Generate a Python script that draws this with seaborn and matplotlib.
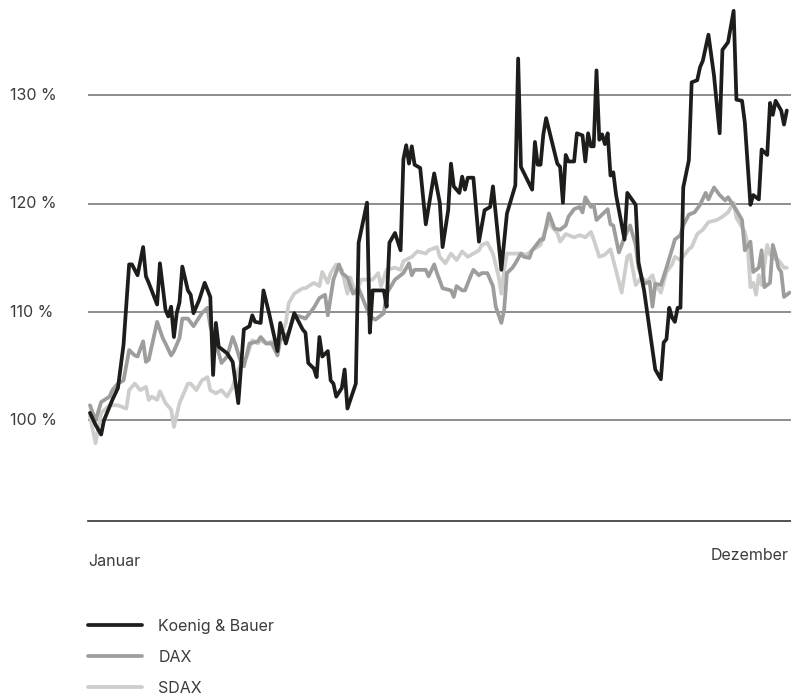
import pandas as pd
import matplotlib.pyplot as plt
import matplotlib.transforms as mtransforms
import seaborn as sns

# Handelstage (0 = Anfang Januar, 250 = Ende Dezember) und indexierte Kurse in %
kb_tage = [0, 2, 4, 5, 8, 10, 12, 14, 15, 17, 19, 20, 21, 24, 25, 27, 28, 29, 30, 31,
           32, 33, 35, 36, 37, 39, 41, 43, 44, 45, 46, 48, 49, 51, 53, 55, 57, 58, 59, 61,
           62, 64, 67, 68, 70, 73, 76, 77, 78, 80, 81, 82, 83, 85, 86, 87, 88, 90, 91, 92,
           95, 96, 99, 100, 101, 105, 106, 107, 109, 111, 112, 113, 114, 115, 116, 118, 120, 123, 125, 126,
           128, 129, 130, 132, 133, 134, 135, 137, 139, 141, 143, 144, 147, 149, 152, 153, 154, 158, 159, 160,
           161, 162, 163, 167, 168, 169, 170, 171, 173, 174, 176, 177, 178, 179, 180, 181, 182, 183, 184, 185,
           186, 187, 188, 191, 192, 195, 196, 198, 202, 204, 205, 206, 207, 208, 209, 210, 211, 212, 214, 215,
           217, 218, 219, 221, 223, 225, 226, 228, 230, 231, 233, 234, 236, 237, 239, 240, 242, 243, 244, 245,
           247, 248, 249]
kb_werte = [100.7, 99.6, 98.7, 100.0, 101.9, 103.0, 107.0, 114.4, 114.4, 113.4, 116.0, 113.3, 112.7, 110.7, 114.5, 110.2, 109.6, 110.5, 107.7, 109.9,
            110.9, 114.2, 112.0, 111.6, 109.9, 111.1, 112.7, 111.4, 104.2, 109.0, 106.8, 106.4, 106.2, 105.4, 101.6, 108.4, 108.7, 109.7, 109.1, 109.0,
            112.0, 109.9, 106.4, 109.0, 107.1, 109.9, 108.4, 108.1, 105.3, 104.8, 104.0, 107.7, 105.9, 106.4, 103.7, 103.4, 102.2, 103.0, 104.7, 101.1,
            103.4, 116.4, 120.1, 108.1, 112.0, 112.0, 110.5, 116.4, 117.3, 115.7, 124.1, 125.4, 123.7, 125.3, 123.6, 123.3, 118.1, 122.8, 120.1, 116.0,
            119.4, 123.7, 121.6, 121.0, 122.5, 121.3, 122.4, 122.4, 116.5, 119.4, 119.7, 121.6, 113.9, 119.1, 121.7, 133.4, 123.4, 121.3, 125.7, 123.6,
            123.6, 126.4, 127.9, 123.7, 123.4, 120.1, 124.5, 123.9, 123.9, 126.5, 126.3, 123.9, 126.5, 125.3, 125.3, 132.3, 125.9, 126.4, 125.5, 126.5,
            122.6, 122.9, 120.8, 116.7, 121.0, 119.9, 114.6, 112.0, 104.7, 103.8, 107.2, 107.5, 110.4, 109.5, 109.1, 110.4, 110.4, 121.5, 124.0, 131.2,
            131.4, 132.6, 133.2, 135.6, 131.8, 126.5, 134.2, 134.9, 137.8, 129.6, 129.5, 127.5, 119.9, 120.8, 120.4, 125.0, 124.5, 129.3, 128.2, 129.5,
            128.6, 127.3, 128.6]

dax_tage = [0, 2, 4, 7, 8, 10, 12, 14, 16, 17, 19, 20, 21, 24, 26, 27, 29, 30, 32, 33,
            35, 37, 38, 40, 42, 43, 45, 47, 49, 51, 52, 54, 55, 57, 60, 61, 63, 65, 67, 68,
            71, 73, 75, 77, 80, 82, 84, 85, 87, 89, 90, 92, 94, 96, 100, 102, 105, 106, 109, 112,
            114, 115, 116, 120, 121, 123, 124, 126, 129, 130, 131, 133, 134, 136, 137, 139, 140, 142, 144, 145,
            147, 148, 149, 151, 152, 154, 155, 157, 158, 161, 162, 164, 165, 166, 168, 170, 171, 173, 175, 176,
            177, 179, 180, 181, 183, 185, 186, 187, 189, 191, 193, 195, 196, 198, 200, 201, 202, 204, 206, 208,
            209, 211, 212, 214, 216, 218, 220, 221, 223, 225, 227, 228, 231, 233, 234, 236, 237, 239, 240, 241,
            243, 244, 245, 246, 247, 248, 250]
dax_werte = [101.4, 100.0, 101.7, 102.2, 102.8, 103.4, 103.7, 106.5, 106.0, 105.9, 107.3, 105.4, 105.6, 109.1, 107.6, 107.1, 106.0, 106.4, 107.6, 109.4,
             109.4, 108.7, 109.1, 109.9, 110.4, 108.7, 107.1, 105.3, 105.9, 107.7, 107.0, 105.3, 105.0, 107.1, 107.3, 107.7, 107.1, 107.1, 106.0, 107.4,
             108.1, 109.7, 109.6, 109.4, 110.4, 111.3, 111.6, 109.7, 113.0, 114.4, 113.6, 113.2, 111.7, 112.2, 109.6, 109.3, 109.9, 111.7, 113.0, 113.6,
             114.5, 113.4, 113.9, 113.9, 113.3, 114.4, 113.6, 112.2, 112.0, 111.4, 112.4, 112.0, 112.0, 113.3, 113.9, 113.4, 113.6, 113.6, 112.4, 110.5,
             109.0, 110.2, 113.6, 114.1, 114.5, 115.4, 115.1, 115.0, 115.7, 116.7, 116.7, 119.1, 118.4, 117.7, 117.6, 118.0, 118.8, 119.5, 119.7, 119.2,
             120.6, 119.7, 119.9, 118.5, 119.0, 119.5, 118.1, 118.0, 115.5, 116.9, 118.0, 116.2, 114.1, 112.6, 112.8, 110.5, 112.6, 112.5, 114.1, 115.8,
             116.7, 117.1, 118.0, 119.0, 119.2, 119.9, 121.0, 120.4, 121.5, 120.8, 120.3, 120.6, 119.4, 118.5, 115.7, 116.5, 113.7, 114.1, 115.7, 112.3,
             112.7, 116.2, 115.3, 114.1, 113.7, 111.4, 111.8]

sdax_tage = [0, 2, 4, 7, 10, 13, 14, 16, 18, 20, 21, 22, 24, 25, 27, 29, 30, 32, 35, 36,
             38, 40, 42, 43, 45, 47, 49, 51, 52, 54, 56, 58, 60, 61, 63, 65, 67, 68, 70, 71,
             73, 76, 77, 80, 82, 83, 85, 86, 88, 90, 92, 93, 95, 97, 101, 103, 104, 106, 109, 111,
             112, 115, 117, 120, 121, 124, 125, 127, 129, 131, 133, 135, 137, 139, 140, 142, 144, 146, 147, 148,
             149, 151, 154, 156, 158, 161, 162, 164, 165, 167, 168, 170, 173, 175, 177, 179, 180, 182, 184, 186,
             187, 190, 192, 193, 195, 197, 199, 201, 202, 204, 206, 208, 209, 211, 214, 215, 217, 219, 221, 224,
             226, 228, 230, 231, 234, 235, 236, 237, 238, 239, 240, 242, 243, 245, 246, 248, 249]
sdax_werte = [100.4, 97.9, 100.7, 101.4, 101.4, 101.1, 102.8, 103.4, 102.8, 103.1, 101.9, 102.2, 101.9, 102.7, 101.6, 101.0, 99.4, 101.6, 103.4, 103.4,
              102.8, 103.7, 104.0, 102.8, 102.5, 102.8, 102.2, 103.1, 104.0, 105.3, 105.9, 107.4, 107.1, 107.4, 107.1, 107.3, 106.7, 107.7, 109.0, 110.8,
              111.7, 112.2, 112.2, 112.7, 112.4, 113.7, 112.7, 113.6, 114.4, 113.9, 111.7, 113.2, 111.7, 113.0, 113.0, 113.6, 112.4, 113.9, 114.1, 113.9,
              114.7, 115.1, 115.6, 115.4, 115.7, 116.0, 115.1, 114.5, 115.4, 114.8, 115.6, 115.1, 115.4, 115.7, 116.2, 116.4, 115.4, 113.3, 111.7, 113.9,
              115.4, 115.4, 115.4, 115.3, 115.7, 116.2, 117.0, 118.4, 117.9, 117.3, 116.5, 117.2, 116.9, 117.1, 116.9, 117.4, 116.7, 115.1, 115.3, 115.8,
              114.8, 111.8, 115.1, 115.3, 112.5, 113.2, 112.8, 113.4, 112.5, 111.8, 113.7, 114.4, 115.1, 114.8, 115.8, 116.0, 117.2, 117.6, 118.3, 118.5,
              118.8, 119.2, 120.1, 118.7, 117.4, 116.2, 112.3, 112.7, 111.6, 113.4, 112.5, 116.2, 115.3, 114.9, 114.8, 114.1, 114.1]

y_ticks = [100, 110, 120, 130]
y_labels = ["100 %", "110 %", "120 %", "130 %"]
reihen = ["Koenig & Bauer", "DAX", "SDAX"]
farben = {"Koenig & Bauer": "#1d1d1b", "DAX": "#9d9d9c", "SDAX": "#cdcdcc"}

df = pd.concat([
    pd.DataFrame({"Tag": kb_tage, "Wert": kb_werte, "Index": "Koenig & Bauer"}),
    pd.DataFrame({"Tag": dax_tage, "Wert": dax_werte, "Index": "DAX"}),
    pd.DataFrame({"Tag": sdax_tage, "Wert": sdax_werte, "Index": "SDAX"}),
])

sns.set_theme(style="white")
plt.rcParams["font.family"] = ["Inter", "DejaVu Sans"]
text_farbe = "#3c3c3b"
schrift = 11.5

fig = plt.figure(figsize=(7.91, 6.97), dpi=100)
ax = fig.add_axes([88 / 791, 1 - 520.7 / 697, 1 - 88 / 791, 520.7 / 697])

# SDAX zuerst, damit Koenig & Bauer oben liegt
sns.lineplot(data=df, x="Tag", y="Wert", hue="Index", hue_order=reihen[::-1],
             palette=farben, estimator=None, linewidth=2.7, ax=ax)

ax.set_xlim(-0.7, 250.5)
ax.set_ylim(90.75, 138.8)
ax.set_yticks(y_ticks)
ax.set_yticklabels([])
ax.set_xticks([])
ax.set_xlabel("")
ax.set_ylabel("")
ax.tick_params(length=0)
ax.grid(axis="y", color="#7a7a7a", linewidth=1.2)
for s in ["top", "right", "left"]:
    ax.spines[s].set_visible(False)
ax.spines["bottom"].set_color("#333333")
ax.spines["bottom"].set_linewidth(1.2)
for line in ax.get_lines():
    line.set_clip_on(False)

# y-Beschriftung ganz links im Bild
trans = mtransforms.blended_transform_factory(fig.transFigure, ax.transData)
for v, lab in zip(y_ticks, y_labels):
    ax.text(10 / 791, v, lab, transform=trans, ha="left", va="center",
            fontsize=schrift, color=text_farbe)

fig.text(88 / 791, 1 - 562 / 697, "Januar", ha="left", va="center", fontsize=schrift, color=text_farbe)
fig.text(789 / 791, 1 - 556 / 697, "Dezember", ha="right", va="center", fontsize=schrift, color=text_farbe)

handles, labels = ax.get_legend_handles_labels()
handles, labels = handles[::-1], labels[::-1]
ax.legend(handles, labels, loc="upper left", bbox_to_anchor=(88 / 791, 1 - 619 / 697),
          bbox_transform=fig.transFigure, frameon=False, fontsize=schrift,
          handlelength=3.4, handletextpad=1.0, labelspacing=1.0, borderpad=0,
          borderaxespad=0, labelcolor=text_farbe)

plt.savefig("out.png", dpi=100)
